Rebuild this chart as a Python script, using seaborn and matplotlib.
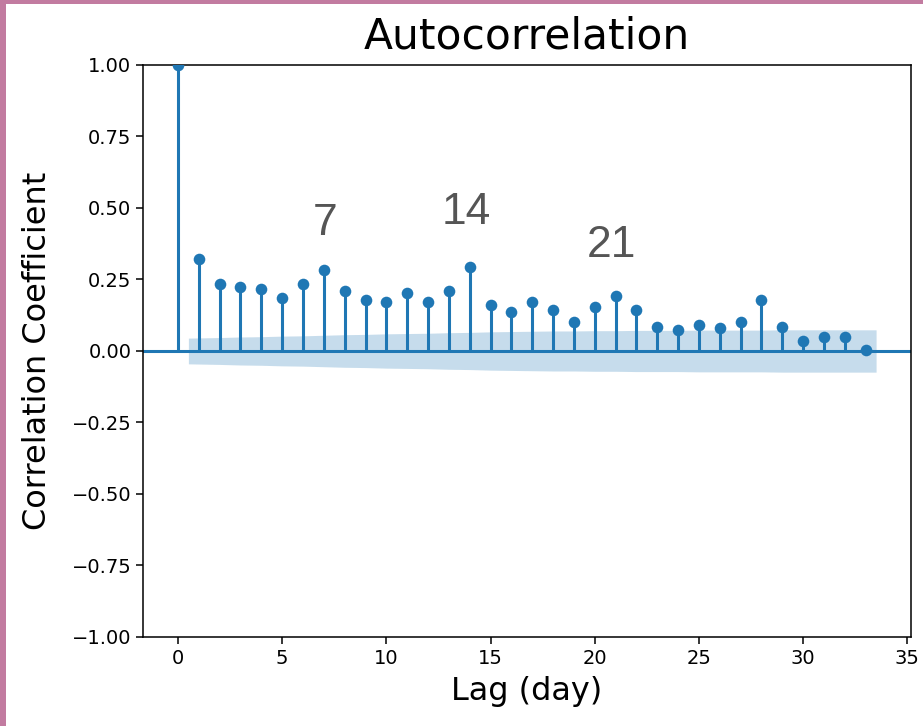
import numpy as np
import pandas as pd
import matplotlib
matplotlib.use("Agg")
import matplotlib.pyplot as plt
from matplotlib.patches import Rectangle
import seaborn as sns

# ACF values (lag 0..33)
lags = list(range(34))
acf_vals = [1.0, 0.32, 0.235, 0.224, 0.215, 0.187, 0.235, 0.284, 0.209, 0.177,
            0.171, 0.203, 0.170, 0.210, 0.294, 0.160, 0.137, 0.171, 0.144, 0.100,
            0.155, 0.192, 0.144, 0.085, 0.073, 0.090, 0.080, 0.100, 0.177, 0.085,
            0.034, 0.049, 0.049, 0.002]

# half width of the confidence band at lags 1..33
band_lags = list(range(1, 34))
band_half = [0.045, 0.047, 0.049, 0.050, 0.052, 0.053, 0.055, 0.057, 0.058, 0.060,
             0.061, 0.062, 0.064, 0.065, 0.067, 0.068, 0.069, 0.070, 0.070, 0.071,
             0.071, 0.072, 0.072, 0.072, 0.073, 0.073, 0.073, 0.073, 0.074, 0.074,
             0.074, 0.074, 0.074]

# weekly peaks that were labelled on the chart
peak_labels = ["7", "14", "21"]
peak_x = [7.08, 13.83, 20.82]
peak_y = [0.447, 0.483, 0.37]

df = pd.DataFrame({"lag": lags, "acf": acf_vals})

blue = "#1f77b4"
fig = plt.figure(figsize=(9.23, 7.26), dpi=100)
ax = fig.add_axes([0.155, 0.1226, 0.832, 0.7879])

# confidence band (edges pushed out half a lag, like statsmodels does)
bx = np.array(band_lags, dtype=float)
bx[0] -= 0.5
bx[-1] += 0.5
bh = np.array(band_half)
ax.fill_between(bx, -bh, bh, color=blue, alpha=0.25, linewidth=0)

ax.axhline(0, color=blue, lw=2.2, zorder=1)
ax.vlines(df["lag"], 0, df["acf"], color=blue, lw=2.2)
sns.scatterplot(data=df, x="lag", y="acf", color=blue, s=70, edgecolor=blue,
                linewidth=0, ax=ax, zorder=3)

for t, x, y in zip(peak_labels, peak_x, peak_y):
    ax.text(x, y, t, fontsize=32, color="#555555", ha="center", va="center",
            family="Liberation Sans")

ax.set_ylim(-1, 1)
ax.set_yticks(np.arange(-1, 1.01, 0.25))
ax.set_xticks(range(0, 36, 5))
ax.tick_params(labelsize=14, length=5, width=1.1)
for s in ax.spines.values():
    s.set_linewidth(1.1)

ax.set_title("Autocorrelation", fontsize=30.5, pad=12)
ax.set_xlabel("Lag (day)", fontsize=23, labelpad=6)
ax.set_ylabel("Correlation Coefficient", fontsize=23, labelpad=13)

# pink frame strips on the left and top edges of the screenshot
fig.add_artist(Rectangle((0, 0), 6 / 923, 1, transform=fig.transFigure,
                         color="#c27ba0", lw=0))
fig.add_artist(Rectangle((0, 1 - 4 / 726), 1, 4 / 726, transform=fig.transFigure,
                         color="#c27ba0", lw=0))

fig.savefig("out.png", dpi=100)
